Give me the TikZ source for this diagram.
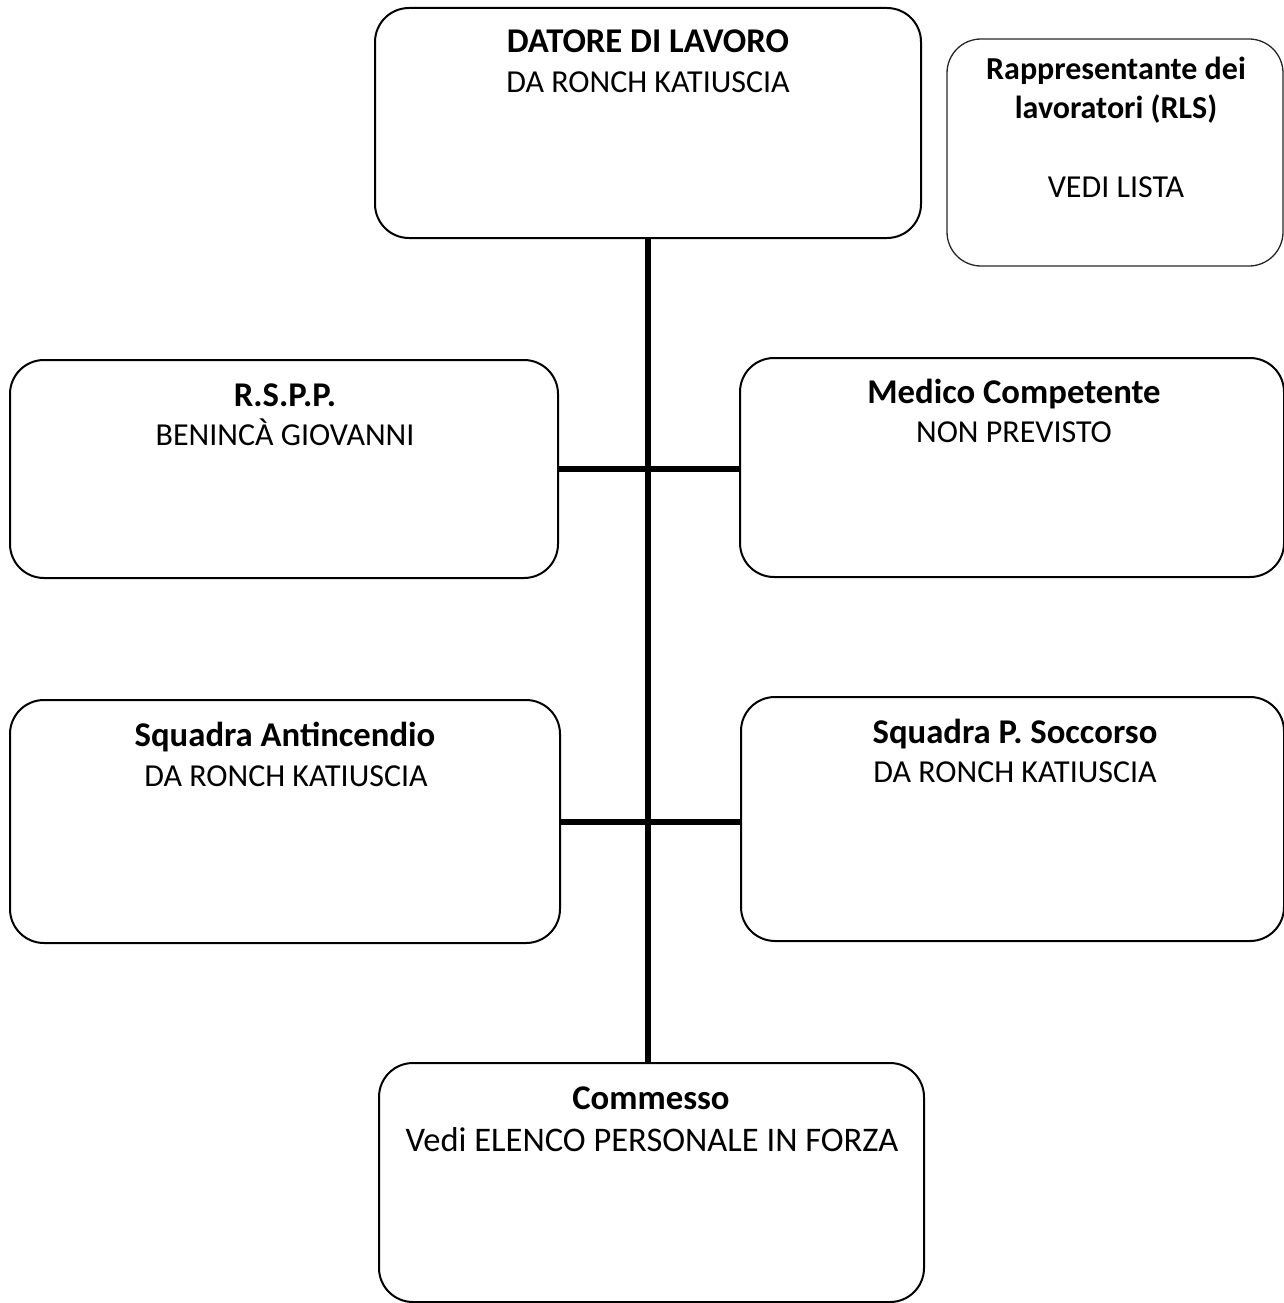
\documentclass[tikz,border=0pt]{standalone}
\usepackage{fontspec}
\setmainfont{Carlito}
\begin{document}
\begin{tikzpicture}[x=1pt,y=-1pt,
  box/.style={draw=black, line width=2pt, rounded corners=34pt, inner sep=0pt},
  thinbox/.style={box, line width=1.3pt, draw=black!85},
  link/.style={draw=black, line width=6pt},
  ttl/.style={font=\fontsize{34.7}{40}\selectfont\bfseries, inner sep=0pt, anchor=base},
  rlsttl/.style={font=\fontsize{32}{38}\selectfont\bfseries, inner sep=0pt, anchor=base},
  sub/.style={font=\fontsize{32}{38}\selectfont, inner sep=0pt, anchor=base},
  bigsub/.style={font=\fontsize{34.5}{40}\selectfont, inner sep=0pt, anchor=base}]
\useasboundingbox (0,0) rectangle (1284,1303);
% boxes
\node[box, minimum width=546pt, minimum height=230pt] (datore) at (648,123) {};
\node[thinbox, minimum width=336pt, minimum height=227pt] (rls) at (1115,152.5) {};
\node[box, minimum width=548pt, minimum height=218pt] (rspp) at (284,469) {};
\node[box, minimum width=544pt, minimum height=219pt] (medico) at (1012,467.5) {};
\node[box, minimum width=550pt, minimum height=243pt] (anti) at (285,821.5) {};
\node[box, minimum width=543pt, minimum height=244pt] (socc) at (1012.5,819) {};
\node[box, minimum width=545pt, minimum height=239pt] (comm) at (651.5,1182.5) {};
% texts
\node[ttl] (t1) at (648,53) {DATORE DI LAVORO};
\node[sub] (s1) at (648,93) {DA RONCH KATIUSCIA};
\node[rlsttl] (t2) at (1116,80) {Rappresentante dei};
\node[rlsttl] (t2b) at (1116,119) {lavoratori (RLS)};
\node[sub] (s2) at (1116,197) {VEDI LISTA};
\node[ttl] (t3) at (285,406) {R.S.P.P.};
\node[sub] (s3) at (285,445) {BENINCÀ GIOVANNI};
\node[ttl] (t4) at (1014,403) {Medico Competente};
\node[sub] (s4) at (1014,442) {NON PREVISTO};
\node[ttl] (t5) at (285,746) {Squadra Antincendio};
\node[sub] (s5) at (286,786) {DA RONCH KATIUSCIA};
\node[ttl] (t6) at (1015,743) {Squadra P. Soccorso};
\node[sub] (s6) at (1015,782) {DA RONCH KATIUSCIA};
\node[ttl] (t7) at (651,1109) {Commesso};
\node[bigsub] (s7) at (652,1151) {Vedi ELENCO PERSONALE IN FORZA};
% connectors
\draw[link] (datore.south) -- (datore.south |- comm.north);
\draw[link] (rspp.east) -- (medico.west |- rspp.east);
\draw[link] (anti.east) -- (socc.west |- anti.east);
\end{tikzpicture}
\end{document}
